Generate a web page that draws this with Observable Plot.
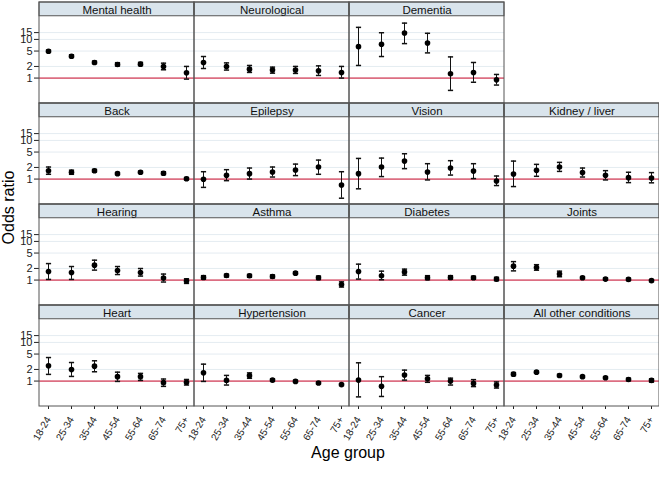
<!DOCTYPE html>
<html><head><meta charset="utf-8">
<script src="https://cdn.jsdelivr.net/npm/d3@7"></script>
<script src="https://cdn.jsdelivr.net/npm/@observablehq/plot@0.6"></script>
<style>
body{margin:0;background:#fff;font-family:"Liberation Sans",Arial,sans-serif}
#wrap{width:659px;height:479px}
g[aria-label="x-axis tick label"]{font-size:10px}
g[aria-label="y-axis tick label"]{font-size:11px}
</style></head><body>
<div id="wrap"></div>
<script>
const ages = ["18-24","25-34","35-44","45-54","55-64","65-74","75+"];
const conditions = ["Mental health","Neurological","Dementia","Back","Epilepsy","Vision","Kidney / liver","Hearing","Asthma","Diabetes","Joints","Heart","Hypertension","Cancer","All other conditions"];
const yTicks = [1, 2, 5, 10, 15];
const gridTicks = [2, 5, 10, 15];

const oddsRatio = [
  [4.94, 3.68, 2.53, 2.25, 2.29, 2.0, 1.37],
  [2.53, 2.0, 1.70, 1.61, 1.61, 1.54, 1.40],
  [6.5, 7.48, 14.6, 8.09, 1.29, 1.40, 0.90],
  [1.64, 1.50, 1.64, 1.38, 1.50, 1.41, 1.02],
  [0.99, 1.25, 1.38, 1.52, 1.71, 2.05, 0.70],
  [1.38, 2.05, 2.92, 1.52, 1.93, 1.61, 0.89],
  [1.35, 1.68, 2.05, 1.47, 1.25, 1.09, 1.07],
  [1.66, 1.57, 2.43, 1.77, 1.57, 1.13, 0.94],
  [1.17, 1.31, 1.29, 1.24, 1.51, 1.15, 0.77],
  [1.66, 1.29, 1.61, 1.15, 1.17, 1.15, 1.06],
  [2.29, 2.11, 1.43, 1.15, 1.06, 1.04, 0.97],
  [2.49, 2.0, 2.43, 1.30, 1.30, 0.91, 0.93],
  [1.64, 1.04, 1.38, 1.06, 0.98, 0.89, 0.81],
  [1.06, 0.73, 1.43, 1.15, 1.0, 0.87, 0.79],
  [1.51, 1.70, 1.40, 1.30, 1.22, 1.10, 1.04]
];
const ciLower = [
  [4.6, 3.4, 2.35, 2.05, 2.1, 1.64, 0.94],
  [1.77, 1.61, 1.40, 1.34, 1.32, 1.17, 1.0],
  [2.12, 3.61, 7.79, 4.48, 0.48, 0.78, 0.66],
  [1.33, 1.33, 1.52, 1.3, 1.4, 1.3, 0.95],
  [0.61, 0.91, 1.0, 1.13, 1.23, 1.33, 0.32],
  [0.56, 1.16, 1.86, 0.95, 1.27, 1.03, 0.68],
  [0.64, 1.18, 1.58, 1.13, 0.95, 0.81, 0.8],
  [1.04, 1.04, 1.81, 1.39, 1.27, 0.89, 0.82],
  [1.05, 1.2, 1.18, 1.13, 1.4, 1.03, 0.66],
  [1.06, 1.02, 1.34, 1.02, 1.05, 1.05, 0.96],
  [1.73, 1.8, 1.22, 1.08, 1.0, 0.97, 0.9],
  [1.49, 1.32, 1.74, 0.98, 1.04, 0.73, 0.79],
  [0.98, 0.79, 1.18, 0.98, 0.92, 0.84, 0.76],
  [0.39, 0.40, 1.06, 0.93, 0.79, 0.72, 0.66],
  [1.38, 1.6, 1.3, 1.22, 1.15, 1.02, 0.94]
];
const ciUpper = [
  [5.3, 4.0, 2.75, 2.5, 2.55, 2.43, 2.0],
  [3.61, 2.47, 2.12, 1.92, 2.0, 2.07, 2.0],
  [20.5, 14.9, 26.4, 14.4, 3.53, 2.53, 1.24],
  [2.05, 1.70, 1.78, 1.48, 1.6, 1.55, 1.1],
  [1.55, 1.75, 1.93, 2.05, 2.44, 3.1, 1.55],
  [3.42, 3.49, 4.52, 2.5, 2.99, 2.5, 1.2],
  [2.92, 2.4, 2.7, 1.93, 1.65, 1.5, 1.47],
  [2.67, 2.24, 3.27, 2.24, 1.99, 1.43, 1.08],
  [1.3, 1.42, 1.4, 1.36, 1.63, 1.27, 0.9],
  [2.58, 1.70, 1.92, 1.3, 1.3, 1.26, 1.18],
  [3.0, 2.5, 1.7, 1.23, 1.13, 1.12, 1.03],
  [4.06, 3.02, 3.35, 1.70, 1.58, 1.13, 1.1],
  [2.74, 1.40, 1.63, 1.14, 1.05, 0.95, 0.86],
  [2.97, 1.30, 1.92, 1.40, 1.19, 1.09, 0.95],
  [1.66, 1.8, 1.5, 1.38, 1.3, 1.19, 1.14]
];

const panels = conditions.map((name, i) => {
  const k = i < 3 ? i : i + 1;
  return {name, row: Math.floor(k / 4), col: k % 4};
});
const rows = [];
conditions.forEach((c, i) => ages.forEach((a, j) => rows.push({
  cond: c, row: panels[i].row, col: panels[i].col, age: a,
  or: oddsRatio[i][j], lo: ciLower[i][j], hi: ciUpper[i][j]
})));
const grid = panels.flatMap(p => gridTicks.map(t => ({...p, t})));

const W = 659, H = 479, MB = 72, MT = 0, ML = 39, STRIP = 14.5;
const cellH = (H - MT - MB) / 4;
const F = {fx: "col", fy: "row"};
const capSymbol = {draw(ctx) { ctx.moveTo(-2.6, 0); ctx.lineTo(2.6, 0); }};

const chart = Plot.plot({
  width: W, height: H,
  marginLeft: ML, marginRight: 0, marginTop: MT, marginBottom: MB,
  style: {fontFamily: "'Liberation Sans', Arial, sans-serif", fontSize: "11px", color: "#222", background: "white"},
  fx: {domain: [0, 1, 2, 3], padding: 0, axis: null},
  fy: {domain: [0, 1, 2, 3], padding: 0, axis: null},
  x: {type: "point", domain: ages, padding: 0.25, tickRotate: -60, tickSize: 3, label: null},
  y: {type: "log", domain: [0.22, 38], insetTop: STRIP, ticks: yTicks, tickFormat: d => String(d), tickSize: 5, tickPadding: 2, label: null},
  marks: [
    Plot.rect(panels, {...F, fill: "#d9e4ec", insetBottom: cellH - STRIP}),
    Plot.ruleY(grid, {...F, y: "t", stroke: "#e4ecf1", strokeWidth: 1}),
    Plot.ruleY(panels, {...F, y: () => 1, stroke: "#dc6e82", strokeWidth: 1.6}),
    Plot.rect(panels, {...F, fill: "none", stroke: "#555", insetBottom: cellH - STRIP}),
    Plot.rect(panels, {...F, fill: "none", stroke: "#555"}),
    Plot.text(panels, {...F, text: "name", frameAnchor: "top", dy: STRIP / 2 + 0.5, lineAnchor: "middle", fontSize: 11.5, fill: "#111"}),
    Plot.ruleX(rows, {...F, x: "age", y1: "lo", y2: "hi", stroke: "#111", strokeWidth: 1}),
    Plot.dot(rows, {...F, x: "age", y: "lo", symbol: capSymbol, stroke: "#111", fill: "none", r: 2.6}),
    Plot.dot(rows, {...F, x: "age", y: "hi", symbol: capSymbol, stroke: "#111", fill: "none", r: 2.6}),
    Plot.dot(rows, {...F, x: "age", y: "or", r: 2.8, fill: "#000", stroke: "none"})
  ]
});
document.getElementById("wrap").appendChild(chart);
const svg = d3.select(chart);
svg.append("text").attr("transform", "translate(14,207.5) rotate(-90)")
  .attr("text-anchor", "middle").attr("font-size", 16).attr("fill", "#000").text("Odds ratio");
svg.append("text").attr("x", 348).attr("y", 458)
  .attr("text-anchor", "middle").attr("font-size", 16).attr("fill", "#000").text("Age group");
</script>
</body></html>
